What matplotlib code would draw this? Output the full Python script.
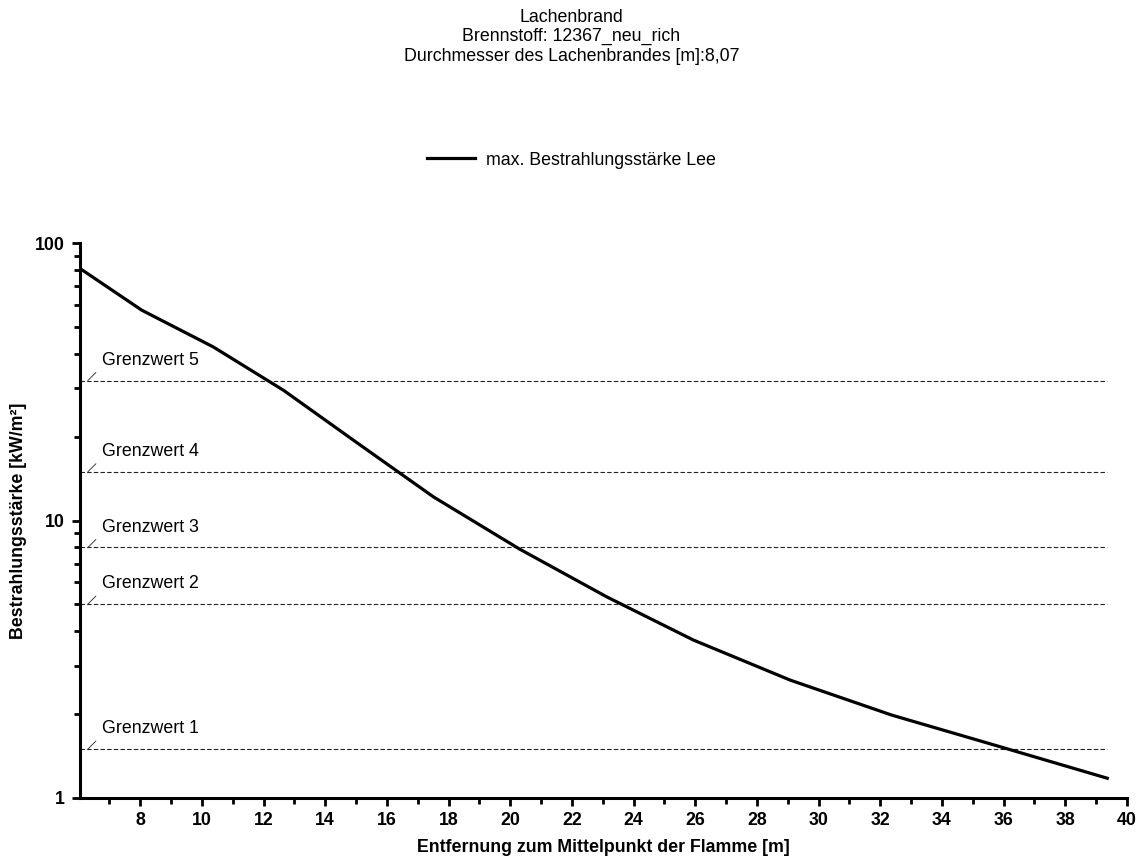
import matplotlib
matplotlib.use("Agg")
import matplotlib.pyplot as plt
from matplotlib.ticker import FixedLocator, NullFormatter, FuncFormatter

plt.rcParams['font.family'] = ['Liberation Sans', 'DejaVu Sans']

# Data
distance_m = [6.05, 8.05, 10.37, 12.65, 15.0, 17.51, 20.3, 23.13, 25.94, 29.08, 32.37, 35.8, 39.36]
irradiance = [81.1, 57.4, 42.3, 29.5, 19.2, 12.18, 7.9, 5.31, 3.71, 2.66, 1.99, 1.54, 1.178]
threshold_labels = ["Grenzwert 1", "Grenzwert 2", "Grenzwert 3", "Grenzwert 4", "Grenzwert 5"]
threshold_values = [1.5, 5.0, 8.0, 15.0, 32.0]
x_major_ticks = list(range(8, 41, 2))
x_minor_ticks = list(range(7, 40, 2))
y_major_ticks = [1, 10, 100]
y_minor_ticks = [2, 3, 4, 5, 6, 7, 8, 9, 20, 30, 40, 50, 60, 70, 80, 90]

FS = 12.8

fig = plt.figure(figsize=(11.43, 8.56), dpi=100)
ax = fig.add_axes([0.070, 0.0678, 0.916, 0.648])

ax.plot(distance_m, irradiance, color='black', lw=2.3, solid_joinstyle='miter',
        label='max. Bestrahlungsstärke Lee', zorder=3)

for lab, val in zip(threshold_labels, threshold_values):
    ax.hlines(val, distance_m[0], distance_m[-1], colors='#222222', lw=0.8,
              linestyles=(0, (4, 2)), zorder=2)
    ax.annotate('', xy=(0.0075, val), xycoords=('axes fraction', 'data'),
                xytext=(5.8, 5.8), textcoords='offset points',
                arrowprops=dict(arrowstyle='-', lw=0.6, color='#222222',
                                shrinkA=0, shrinkB=0))
    ax.annotate(lab, xy=(0.021, val), xycoords=('axes fraction', 'data'),
                xytext=(0, 14.5), textcoords='offset points',
                fontsize=FS, va='center', ha='left', color='black')

ax.set_yscale('log')
ax.set_xlim(6.05, 40)
ax.set_ylim(1, 100)

ax.xaxis.set_major_locator(FixedLocator(x_major_ticks))
ax.xaxis.set_minor_locator(FixedLocator(x_minor_ticks))
ax.xaxis.set_minor_formatter(NullFormatter())
ax.yaxis.set_major_locator(FixedLocator(y_major_ticks))
ax.yaxis.set_minor_locator(FixedLocator(y_minor_ticks))
ax.yaxis.set_major_formatter(FuncFormatter(lambda v, p: f"{v:g}"))
ax.yaxis.set_minor_formatter(NullFormatter())

for side in ['top', 'right']:
    ax.spines[side].set_visible(False)
for side in ['left', 'bottom']:
    ax.spines[side].set_linewidth(2.2)

ax.tick_params(axis='y', which='major', direction='out', length=6, width=2, labelsize=FS, pad=5)
ax.tick_params(axis='x', which='major', direction='out', length=6, width=2, labelsize=FS, pad=4)
ax.tick_params(which='minor', direction='out', length=4.5, width=2)
for t in ax.get_xticklabels() + ax.get_yticklabels():
    t.set_fontweight('bold')

ax.set_xlabel('Entfernung zum Mittelpunkt der Flamme [m]', fontsize=FS, fontweight='bold', labelpad=7)
ax.set_ylabel('Bestrahlungsstärke [kW/m²]', fontsize=FS, fontweight='bold', labelpad=6)

fig.text(0.5, 0.990, 'Lachenbrand\nBrennstoff: 12367_neu_rich\nDurchmesser des Lachenbrandes [m]:8,07',
         ha='center', va='top', fontsize=FS, linespacing=1.2)

handles, labels = ax.get_legend_handles_labels()
fig.legend(handles, labels, loc='center', bbox_to_anchor=(0.5, 0.813), frameon=False,
           fontsize=FS, handlelength=2.7, handletextpad=0.6)

fig.savefig('out.png', dpi=100)
